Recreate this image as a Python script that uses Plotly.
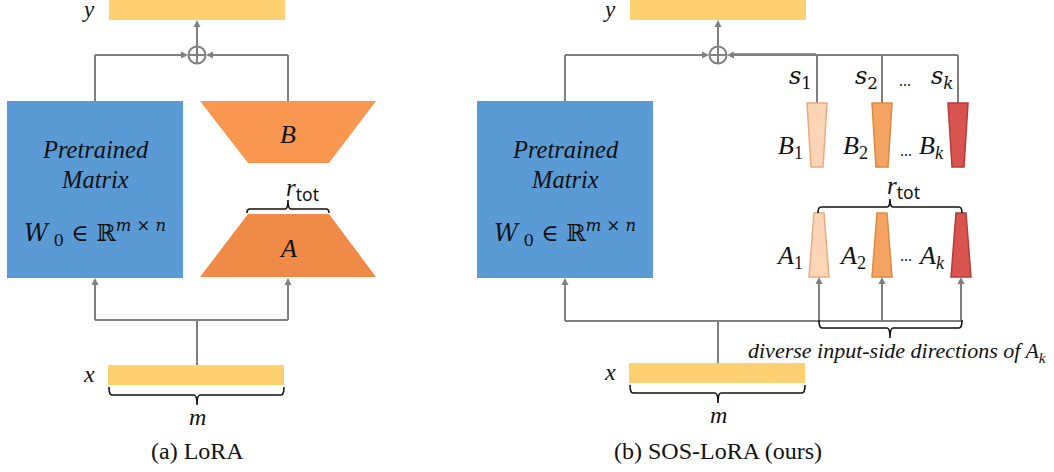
import plotly.graph_objects as go

# ---------------- content (text) ----------------
panel_captions = ["(a) LoRA", "(b) SOS-LoRA (ours)"]
box_lines = ["<i>Pretrained</i>", "<i>Matrix</i>"]
w0_label = "<i>W</i><sub> 0</sub> ∈ ℝ<sup><i>m</i> × <i>n</i></sup>"
io_labels = ["<i>y</i>", "<i>x</i>", "<i>m</i>"]
lora_labels = ["<i>B</i>", "<i>A</i>"]
rtot_label = "<i>r</i><sub><span style='font-family:Noto Sans'>tot</span></sub>"
scale_labels = ["<i>s</i><sub>1</sub>", "<i>s</i><sub>2</sub>", "<i>s</i><sub><i>k</i></sub>"]
B_labels = ["<i>B</i><sub>1</sub>", "<i>B</i><sub>2</sub>", "<i>B</i><sub><i>k</i></sub>"]
A_labels = ["<i>A</i><sub>1</sub>", "<i>A</i><sub>2</sub>", "<i>A</i><sub><i>k</i></sub>"]
dir_label = "<i>diverse input-side directions of A</i><sub><i>k</i></sub>"

# ---------------- styles ----------------
YEL = "#FFD071"
BLUE = "#5B9BD5"
ORANGE_B = "#F9964F"
ORANGE_A = "#EF8B47"
ADAPT_FILL = ["#FBD5B6", "#F4A460", "#D9534F"]
ADAPT_EDGE = ["#EBAA80", "#D98A3E", "#B53C38"]
GREY = "#7F7F7F"
SERIF = "Liberation Serif"
MATH = "DejaVu Serif"

shapes = []
annotations = []


def seg(x0, y0, x1, y1, color=GREY, w=2):
    shapes.append(dict(type="line", x0=x0, y0=y0, x1=x1, y1=y1,
                       xref="x", yref="y", line=dict(color=color, width=w)))


def poly(pts, fill, edge=None, w=0):
    d = "M " + " L ".join(f"{x},{y}" for x, y in pts) + " Z"
    shapes.append(dict(type="path", path=d, xref="x", yref="y", fillcolor=fill,
                       line=dict(color=edge or fill, width=w)))


def rect(x0, y0, x1, y1, fill):
    shapes.append(dict(type="rect", x0=x0, y0=y0, x1=x1, y1=y1, xref="x", yref="y",
                       fillcolor=fill, line=dict(width=0)))


def head(tx, ty, direction, L=7, H=3.5):
    if direction == "up":
        pts = [(tx, ty), (tx - H, ty + L), (tx + H, ty + L)]
    elif direction == "right":
        pts = [(tx, ty), (tx - L, ty - H), (tx - L, ty + H)]
    else:  # left
        pts = [(tx, ty), (tx + L, ty - H), (tx + L, ty + H)]
    poly(pts, GREY)


def brace(x0, x1, y, xm, tip, ends, color="#111111"):
    s = 3
    d = (f"M {x0},{y+ends} Q {x0},{y} {x0+s},{y} L {xm-s},{y} "
         f"Q {xm},{y} {xm},{y+tip} Q {xm},{y} {xm+s},{y} L {x1-s},{y} "
         f"Q {x1},{y} {x1},{y+ends}")
    shapes.append(dict(type="path", path=d, xref="x", yref="y",
                       line=dict(color=color, width=1.6)))


def text(x, y, t, size=22, xanchor="center", family=SERIF, color="#111111"):
    annotations.append(dict(x=x, y=y, xref="x", yref="y", text=t, showarrow=False,
                            xanchor=xanchor, yanchor="middle",
                            font=dict(family=family, size=size, color=color)))


def adder(cx, cy, r=8.5):
    shapes.append(dict(type="circle", x0=cx - r, y0=cy - r, x1=cx + r, y1=cy + r,
                       xref="x", yref="y", line=dict(color=GREY, width=2)))
    seg(cx - r, cy, cx + r, cy)
    seg(cx, cy - r, cx, cy + r)


def common(off, cx, bar_top, caption):
    rect(cx - 88, 0, cx + 88, 20, YEL)
    text(cx - 109, 9, io_labels[0], 23)
    adder(cx, 55)
    seg(cx, 46.5, cx, 26)
    head(cx, 20, "up")
    bx = off
    rect(bx + 7, 101, bx + 183, 278, BLUE)
    text(bx + 95, 149, box_lines[0], 24.5)
    text(bx + 95, 179, box_lines[1], 24.5)
    text(bx + 95, 233, w0_label, 23.5, family=MATH)
    seg(bx + 95, 101, bx + 95, 55)
    seg(bx + 95, 55, cx - 15, 55)
    head(cx - 9, 55, "right")
    rect(cx - 89, bar_top, cx + 87, bar_top + 20, YEL)
    text(cx - 108, bar_top + 9, io_labels[1], 24)
    brace(cx - 88, cx + 87, bar_top + 30, cx, 10, -8)
    text(cx, bar_top + 52, io_labels[2], 24)
    text(cx, 451, caption, 24)


# ================= (a) LoRA =================
common(0, 197, 365, panel_captions[0])
seg(288, 101, 288, 55)
seg(288, 55, 213, 55)
head(206, 55, "left")
poly([(200, 101), (376, 101), (329, 163), (248, 163)], ORANGE_B)
text(288, 134, lora_labels[0], 26)
poly([(248, 214), (329, 214), (376, 277), (200, 277)], ORANGE_A)
text(288, 248, lora_labels[1], 26)
brace(247, 329, 209, 288, -9, 4)
text(302, 190, rtot_label, 25)
seg(95, 320, 288, 320)
seg(197, 320, 197, 365)
for xx in (95, 288):
    seg(xx, 320, xx, 284)
    head(xx, 278, "up")

# ================= (b) SOS-LoRA =================
common(470, 718, 363, panel_captions[1])
B_cx = [817, 882, 958]
A_cx = [819, 882, 961]
seg(733, 55, 958, 55, w=2)
seg(734, 54, 816, 54, w=1.5)
head(727, 55, "left")
for i in range(3):
    c = B_cx[i]
    seg(c, 55, c, 103)
    poly([(c - 10, 103), (c + 10, 103), (c + 6, 167), (c - 6, 167)],
         ADAPT_FILL[i], ADAPT_EDGE[i], 1.5)
    a = A_cx[i]
    poly([(a - 5, 213), (a + 5, 213), (a + 10, 277), (a - 10, 277)],
         ADAPT_FILL[i], ADAPT_EDGE[i], 1.5)
    seg(a, 321, a, 283)
    head(a, 277, "up")

s_x = [800, 866, 942]
for i in range(3):
    text(s_x[i], 77, scale_labels[i], 24, family=MATH)
    text(B_cx[i] - 27, 147, B_labels[i], 26)
    text(A_cx[i] - 30, 257, A_labels[i], 26)
text(905, 80, "...", 16)
text(906, 150, "...", 16)
text(906, 255, "...", 16)

brace(818, 962, 207, 890, -8, 6)
text(903, 188, rtot_label, 25)

seg(565, 321, 962, 321)
seg(718, 321, 718, 363)
seg(565, 321, 565, 284)
head(565, 278, "up")
brace(819, 962, 328, 890, 10, -8)
text(897, 352, dir_label, 22)

fig = go.Figure()
fig.update_layout(
    width=1054, height=472,
    margin=dict(l=0, r=0, t=0, b=0),
    paper_bgcolor="white", plot_bgcolor="white",
    xaxis=dict(range=[0, 1054], visible=False, fixedrange=True),
    yaxis=dict(range=[472, 0], visible=False, fixedrange=True),
    shapes=shapes, annotations=annotations, showlegend=False,
)
# remove the default 8px page margin so the figure sits at the window's corner
fig.write_html("out.html",
               config={"displayModeBar": False},
               post_script="document.body.style.margin='0';document.body.style.overflow='hidden';")
